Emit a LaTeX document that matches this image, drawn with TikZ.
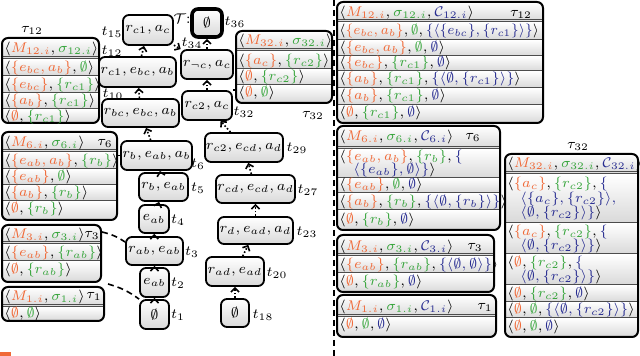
\documentclass[tikz,border=0pt]{standalone}
\usetikzlibrary{arrows.meta,calc}
\definecolor{cM}{RGB}{240,105,55}
\definecolor{cS}{RGB}{55,165,60}
\definecolor{cC}{RGB}{40,45,145}
\newcommand\oM[1]{\textcolor{cM}{#1}}
\newcommand\oS[1]{\textcolor{cS}{#1}}
\newcommand\oC[1]{\textcolor{cC}{#1}}
\newcommand\es{\emptyset}
\newcommand\la{\langle}
\newcommand\ra{\rangle}
\newcommand\mkpanel[7]{%
\begin{scope}
\clip[rounded corners=3pt] (#2,#3) rectangle (#4,#5);
\foreach \s [remember=\s as \lst (initially #3)] in {#6,#7} {\shade[top color=white,bottom color=gray!30] (#2,\lst) rectangle (#4,\s);}
\foreach \s in {#7} {\draw[sep] (#2,\s) -- (#4,\s);}
\draw[sep] (#2,#6-2.5) -- (#4,#6-2.5);
\draw[sep] (#2,#6) -- (#4,#6);
\end{scope}
\pgfmathsetmacro\pnw{(#4-#2)/2}\pgfmathsetmacro\pnh{(#5-#3)/2}
\node[panelbox, minimum width=\pnw pt, minimum height=\pnh pt] (#1) at ({(#2+#4)/2},{(#3+#5)/2}) {};}
\newcommand\mktree[6]{%
\pgfmathsetmacro\pnw{(#4-#2)/2}\pgfmathsetmacro\pnh{(#5-#3)/2}
\node[tn, minimum width=\pnw pt, minimum height=\pnh pt] (#1) at ({(#2+#4)/2},{(#3+#5)/2}) {#6};}
\begin{document}
\begin{tikzpicture}[x=0.5pt,y=-0.5pt, font=\fontsize{7.5}{9}\selectfont,
 tn/.style={draw, line width=0.9pt, rounded corners=3pt, top color=white, bottom color=gray!30, inner sep=0pt},
 panelbox/.style={draw, line width=1pt, rounded corners=3pt, inner sep=0pt},
 rowtxt/.style={anchor=west, inner sep=0pt},
 lbl/.style={inner sep=0pt},
 sep/.style={draw=black!70, line width=0.5pt},
 tedge/.style={densely dotted, line width=0.8pt, -{Straight Barb[length=2pt,width=4pt]}},
 cdash/.style={line width=0.8pt, dash pattern=on 3pt off 2pt}
]
\useasboundingbox (0,0) rectangle (640,356);

% ---------- left panels ----------
\node[lbl] (L12t) at (32,30) {$\tau_{12}$};
\mkpanel{L12}{2}{38}{99}{123}{59}{76,93,109,123}
\node[rowtxt] (L12h) at (4,49) {$\la \oM{M_{12.i}}, \oS{\sigma_{12.i}}\ra$};
\node[rowtxt] (L12a) at (4,68) {$\la \oM{\{e_{bc}, a_b\}}, \oS{\es}\ra$};
\node[rowtxt] (L12b) at (4,85) {$\la \oM{\{e_{bc}\}}, \oS{\{r_{c1}\}}\ra$};
\node[rowtxt] (L12c) at (4,101) {$\la \oM{\{a_b\}}, \oS{\{r_{c1}\}}\ra$};
\node[rowtxt] (L12d) at (4,117) {$\la \oM{\es}, \oS{\{r_{c1}\}}\ra$};

\mkpanel{L6}{2}{132}{117}{220}{152}{169,185,201,220}
\node[rowtxt] (L6h) at (4,143) {$\la \oM{M_{6.i}}, \oS{\sigma_{6.i}}\ra$};
\node[lbl] (L6t) at (105,143) {$\tau_6$};
\node[rowtxt] (L6a) at (4,161) {$\la \oM{\{e_{ab}, a_b\}}, \oS{\{r_b\}}\ra$};
\node[rowtxt] (L6b) at (4,177) {$\la \oM{\{e_{ab}\}}, \oS{\es}\ra$};
\node[rowtxt] (L6c) at (4,193) {$\la \oM{\{a_b\}}, \oS{\{r_b\}}\ra$};
\node[rowtxt] (L6d) at (4,209) {$\la \oM{\es}, \oS{\{r_b\}}\ra$};

\mkpanel{L3}{2}{225}{101}{282}{244}{261,282}
\node[rowtxt] (L3h) at (4,235) {$\la \oM{M_{3.i}}, \oS{\sigma_{3.i}}\ra$};
\node[lbl] (L3t) at (92,235) {$\tau_3$};
\node[rowtxt] (L3a) at (4,253) {$\la \oM{\{e_{ab}\}}, \oS{\{r_{ab}\}}\ra$};
\node[rowtxt] (L3b) at (4,270) {$\la \oM{\es}, \oS{\{r_{ab}\}}\ra$};

\mkpanel{L1}{2}{287}{104}{321}{307}{321}
\node[rowtxt] (L1h) at (4,297) {$\la \oM{M_{1.i}}, \oS{\sigma_{1.i}}\ra$};
\node[lbl] (L1t) at (94,296) {$\tau_1$};
\node[rowtxt] (L1a) at (4,314) {$\la \oM{\es}, \oS{\es}\ra$};

% middle tau32 panel
\mkpanel{M32}{236}{31}{332}{103}{51}{69,85,103}
\node[rowtxt] (M32h) at (238,41) {$\la \oM{M_{32.i}}, \oS{\sigma_{32.i}}\ra$};
\node[rowtxt] (M32a) at (238,61) {$\la \oM{\{a_c\}}, \oS{\{r_{c2}\}}\ra$};
\node[rowtxt] (M32b) at (238,77) {$\la \oM{\es}, \oS{\{r_{c2}\}}\ra$};
\node[rowtxt] (M32c) at (238,93) {$\la \oM{\es}, \oS{\es}\ra$};
\node[lbl] (M32t) at (313,115) {$\tau_{32}$};

% ---------- tree ----------
\node[tn, line width=1.8pt, minimum width=15pt, minimum height=14pt] (n36) at (207,23) {$\es$};
\mktree{n15}{123}{15}{173}{45}{$r_{c1}, a_c$}
\mktree{n12}{99}{57}{176}{87}{$r_{c1}, e_{bc}, a_b$}
\mktree{n10}{102}{99}{179}{127}{$r_{bc}, e_{bc}, a_b$}
\mktree{n6}{121}{141}{192}{170}{$r_b, e_{ab}, a_b$}
\mktree{n5}{139}{173}{188}{201}{$r_b, e_{ab}$}
\mktree{n4}{139}{205}{169}{233}{$e_{ab}$}
\mktree{n3}{126}{237}{183}{265}{$r_{ab}, e_{ab}$}
\mktree{n2}{140}{268}{169}{297}{$e_{ab}$}
\mktree{n1}{140}{300}{169}{329}{$\es$}
\mktree{n34}{181}{50}{233}{79}{$r_{\neg c}, a_c$}
\mktree{n32}{182}{91}{232}{120}{$r_{c2}, a_c$}
\mktree{n29}{205}{133}{283}{162}{$r_{c2}, e_{cd}, a_d$}
\mktree{n27}{216}{175}{295}{203}{$r_{cd}, e_{cd}, a_d$}
\mktree{n23}{218}{217}{293}{244}{$r_d, e_{ad}, a_d$}
\mktree{n20}{206}{257}{264}{286}{$r_{ad}, e_{ad}$}
\mktree{n18}{221}{299}{249}{327}{$\es$}

\draw[tedge] (n1) -- (n2);
\draw[tedge] (n2) -- (n3);
\draw[tedge] (n3) -- (n4);
\draw[tedge] (n4) -- (n5);
\draw[tedge] (n5) -- (n6);
\draw[tedge] (n6) -- (n10);
\draw[tedge] (n10) -- (n12);
\draw[tedge] (n12) -- (n15);
\draw[tedge] (n15) -- (n34);
\draw[tedge] (n34) -- (n36);
\draw[tedge] (n32) -- (n34);
\draw[tedge] (n29) -- (n32);
\draw[tedge] (n27) -- (n29);
\draw[tedge] (n23) -- (n27);
\draw[tedge] (n20) -- (n23);
\draw[tedge] (n18) -- (n20);

% time labels
\node[lbl] (T) at (182,19) {$\mathcal{T}$:};
\node[lbl] (t36) at (235,22) {$t_{36}$};
\node[lbl] (t15) at (112,32) {$t_{15}$};
\node[lbl] (t12) at (112,51) {$t_{12}$};
\node[lbl] (t10) at (113,94) {$t_{10}$};
\node[lbl] (t6) at (198,164) {$t_6$};
\node[lbl] (t5) at (198,188) {$t_5$};
\node[lbl] (t4) at (178,220) {$t_4$};
\node[lbl] (t3) at (192,252) {$t_3$};
\node[lbl] (t2) at (178,283) {$t_2$};
\node[lbl] (t1) at (178,315) {$t_1$};
\node[lbl] (t34) at (192,43) {$t_{34}$};
\node[lbl] (t32) at (244,112) {$t_{32}$};
\node[lbl] (t29) at (297,148) {$t_{29}$};
\node[lbl] (t27) at (308,190) {$t_{27}$};
\node[lbl] (t23) at (307,232) {$t_{23}$};
\node[lbl] (t20) at (277,273) {$t_{20}$};
\node[lbl] (t18) at (263,315) {$t_{18}$};

% panel-to-tree connectors
\draw[line width=0.8pt] (n6.west -| L6.east) -- (n6.west);
\draw[line width=0.8pt] (n32.north east) -- (M32.west |- n32.north east);
\draw[cdash] ([yshift=-4pt]L3.north east) to[bend left=10] ([yshift=4.5pt]n3.west);
\draw[cdash] ([xshift=1.5pt,yshift=1pt]L1.north east) to[bend left=10] (n1.north west);

% ---------- separator ----------
\draw[cdash, line width=1pt] (334,0) -- (334,356);

% ---------- right panels ----------
\mkpanel{R12}{337}{2}{543}{123}{22}{40,56,71,88,105,123}
\node[rowtxt] (R12h) at (339,13) {$\la \oM{M_{12.i}}, \oS{\sigma_{12.i}}, \oC{\mathcal{C}_{12.i}}\ra$};
\node[lbl] (R12t) at (521,14) {$\tau_{12}$};
\node[rowtxt, transform shape, xscale=0.95] (R12a) at (339,31) {$\la \oM{\{e_{bc}, a_b\}}, \oS{\es}, \oC{\{\la\{e_{bc}\}, \{r_{c1}\}\ra\}}\ra$};
\node[rowtxt] (R12b) at (339,48) {$\la \oM{\{e_{bc}, a_b\}}, \oS{\es}, \oC{\es}\ra$};
\node[rowtxt] (R12c) at (339,63) {$\la \oM{\{e_{bc}\}}, \oS{\{r_{c1}\}}, \oC{\es}\ra$};
\node[rowtxt] (R12d) at (339,79) {$\la \oM{\{a_b\}}, \oS{\{r_{c1}\}}, \oC{\{\la\es, \{r_{c1}\}\ra\}}\ra$};
\node[rowtxt] (R12e) at (339,96) {$\la \oM{\{a_b\}}, \oS{\{r_{c1}\}}, \oC{\es}\ra$};
\node[rowtxt] (R12f) at (339,113) {$\la \oM{\es}, \oS{\{r_{c1}\}}, \oC{\es}\ra$};

\mkpanel{R6}{337}{126}{500}{230}{149}{178,193,210,230}
\node[rowtxt] (R6h) at (339,137) {$\la \oM{M_{6.i}}, \oS{\sigma_{6.i}}, \oC{\mathcal{C}_{6.i}}\ra$};
\node[lbl] (R6t) at (473,137) {$\tau_6$};
\node[rowtxt] (R6a) at (339,157) {$\la \oM{\{e_{ab}, a_b\}}, \oS{\{r_b\}}, \oC{\{}$};
\node[rowtxt] (R6a2) at (353,170) {$\oC{\la\{e_{ab}\}, \es\ra\}}\ra$};
\node[rowtxt] (R6b) at (339,185) {$\la \oM{\{e_{ab}\}}, \oS{\es}, \oC{\es}\ra$};
\node[rowtxt] (R6c) at (339,202) {$\la \oM{\{a_b\}}, \oS{\{r_b\}}, \oC{\{\la\es, \{r_b\}\ra\}}\ra$};
\node[rowtxt] (R6d) at (339,220) {$\la \oM{\es}, \oS{\{r_b\}}, \oC{\es}\ra$};

\mkpanel{R3}{337}{235}{494}{292}{256}{273,292}
\node[rowtxt] (R3h) at (339,247) {$\la \oM{M_{3.i}}, \oS{\sigma_{3.i}}, \oC{\mathcal{C}_{3.i}}\ra$};
\node[lbl] (R3t) at (475,247) {$\tau_3$};
\node[rowtxt] (R3a) at (339,265) {$\la \oM{\{e_{ab}\}}, \oS{\{r_{ab}\}}, \oC{\{\la\es, \es\ra\}}\ra$};
\node[rowtxt] (R3b) at (339,282) {$\la \oM{\es}, \oS{\{r_{ab}\}}, \oC{\es}\ra$};

\mkpanel{R1}{337}{295}{496}{337}{317}{337}
\node[rowtxt] (R1h) at (339,307) {$\la \oM{M_{1.i}}, \oS{\sigma_{1.i}}, \oC{\mathcal{C}_{1.i}}\ra$};
\node[lbl] (R1t) at (485,307) {$\tau_1$};
\node[rowtxt] (R1a) at (339,325) {$\la \oM{\es}, \oS{\es}, \oC{\es}\ra$};

\node[lbl] (R32t) at (578,146) {$\tau_{32}$};
\mkpanel{R32}{505}{154}{638}{337}{174}{223,254,285,302,318,337}
\node[rowtxt] (R32h) at (507,164) {$\la \oM{M_{32.i}}, \oS{\sigma_{32.i}}, \oC{\mathcal{C}_{32.i}}\ra$};
\node[rowtxt] (R32a) at (507,184) {$\la \oM{\{a_c\}}, \oS{\{r_{c2}\}}, \oC{\{}$};
\node[rowtxt] (R32a2) at (520,199) {$\oC{\la\{a_c\}, \{r_{c2}\}\ra,}$};
\node[rowtxt] (R32a3) at (520,213) {$\oC{\la\es, \{r_{c2}\}\ra\}}\ra$};
\node[rowtxt] (R32b) at (507,232) {$\la \oM{\{a_c\}}, \oS{\{r_{c2}\}}, \oC{\{}$};
\node[rowtxt] (R32b2) at (520,246) {$\oC{\la\es, \{r_{c2}\}\ra\}}\ra$};
\node[rowtxt] (R32c) at (507,263) {$\la \oM{\es}, \oS{\{r_{c2}\}}, \oC{\{}$};
\node[rowtxt] (R32c2) at (520,277) {$\oC{\la\es, \{r_{c2}\}\ra\}}\ra$};
\node[rowtxt] (R32d) at (507,294) {$\la \oM{\es}, \oS{\{r_{c2}\}}, \oC{\es}\ra$};
\node[rowtxt] (R32e) at (507,310) {$\la \oM{\es}, \oS{\es}, \oC{\{\la\es, \{r_{c2}\}\ra\}}\ra$};
\node[rowtxt] (R32f) at (507,327) {$\la \oM{\es}, \oS{\es}, \oC{\es}\ra$};

% small orange mark at bottom left
\fill[cM] (0,352) rectangle (11,356);
\end{tikzpicture}
\end{document}
